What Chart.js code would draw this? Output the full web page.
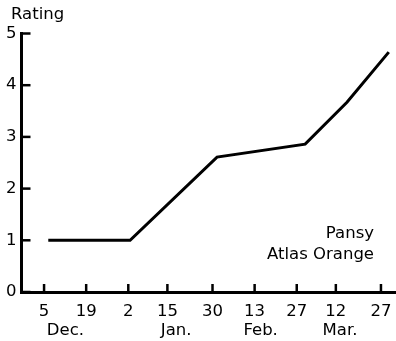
<!DOCTYPE html>
<html><head><meta charset="utf-8">
<script src="https://cdn.jsdelivr.net/npm/chart.js@4/dist/chart.umd.min.js"></script>
<style>html,body{margin:0;padding:0;background:#fff}#wrap{width:396px;height:341px}</style>
</head><body><div id="wrap"><canvas id="c" width="396" height="341"></canvas></div>
<script>
const tickDays = [0, 14, 28, 41, 56, 70, 84, 97, 112];
const tickLabels = ['5', '19', '2', '15', '30', '13', '27', '12', '27'];
const monthLabels = ['Dec.', 'Jan.', 'Feb.', 'Mar.'];
const monthDays = [7.1, 43.9, 72, 98.4];
const seriesDays = [1.4, 28.6, 57.5, 86.8, 100.7, 114.6];
const seriesRatings = [1, 1, 2.61, 2.86, 3.67, 4.64];
const yTicks = [0, 1, 2, 3, 4, 5];
const legendLines = ['Pansy', 'Atlas Orange'];
const yTitle = 'Rating';

const FONT = '"DejaVu Sans", sans-serif';
const FS = 16.5;

const extras = {
  id: 'extras',
  afterDraw(chart) {
    const ctx = chart.ctx;
    const xs = chart.scales.x, ys = chart.scales.y;
    const ca = chart.chartArea;
    ctx.save();
    ctx.strokeStyle = '#000';
    ctx.lineWidth = 2.5;
    ctx.lineCap = 'butt';
    tickDays.forEach(d => {
      const px = xs.getPixelForValue(d);
      ctx.beginPath(); ctx.moveTo(px, ca.bottom); ctx.lineTo(px, ca.bottom - 8); ctx.stroke();
    });
    yTicks.forEach(v => {
      const py = ys.getPixelForValue(v);
      ctx.beginPath(); ctx.moveTo(ca.left, py); ctx.lineTo(ca.left + 9, py); ctx.stroke();
    });
    ctx.fillStyle = '#000';
    ctx.font = FS + 'px ' + FONT;
    ctx.textAlign = 'center';
    ctx.textBaseline = 'alphabetic';
    monthLabels.forEach((m, i) => {
      ctx.fillText(m, xs.getPixelForValue(monthDays[i]), 335);
    });
    ctx.textAlign = 'right';
    ctx.fillText(legendLines[0], 374, 238);
    ctx.fillText(legendLines[1], 374, 259);
    ctx.textAlign = 'left';
    ctx.fillText(yTitle, 11, 19);
    ctx.restore();
  }
};

new Chart(document.getElementById('c'), {
  type: 'line',
  data: {
    datasets: [{
      data: seriesDays.map((d, i) => ({x: d, y: seriesRatings[i]})),
      borderColor: '#000',
      borderWidth: 3,
      pointRadius: 0,
      tension: 0,
      fill: false
    }]
  },
  options: {
    responsive: false,
    animation: false,
    devicePixelRatio: 1,
    layout: {padding: {top: 33.5, left: 0, right: 0, bottom: 0}},
    plugins: {legend: {display: false}, tooltip: {enabled: false}},
    scales: {
      x: {
        type: 'linear', min: -7.5, max: 117,
        afterBuildTicks: s => { s.ticks = tickDays.map(v => ({value: v})); },
        afterFit: s => { s.height = 49; s.paddingLeft = 0; s.paddingRight = 0; },
        grid: {display: false, drawTicks: false},
        border: {display: true, width: 3, color: '#000'},
        ticks: {
          autoSkip: false, maxRotation: 0, padding: 10, color: '#000',
          font: {family: FONT, size: FS},
          callback: (v, i) => tickLabels[i]
        }
      },
      y: {
        min: 0, max: 5,
        afterBuildTicks: s => { s.ticks = yTicks.map(v => ({value: v})); },
        afterFit: s => { s.width = 21.5; },
        grid: {display: false, drawTicks: false},
        border: {display: true, width: 3, color: '#000'},
        ticks: {padding: 5, color: '#000', font: {family: FONT, size: FS}, callback: (v, i) => String(yTicks[i])}
      }
    }
  },
  plugins: [extras]
});
</script></body></html>
